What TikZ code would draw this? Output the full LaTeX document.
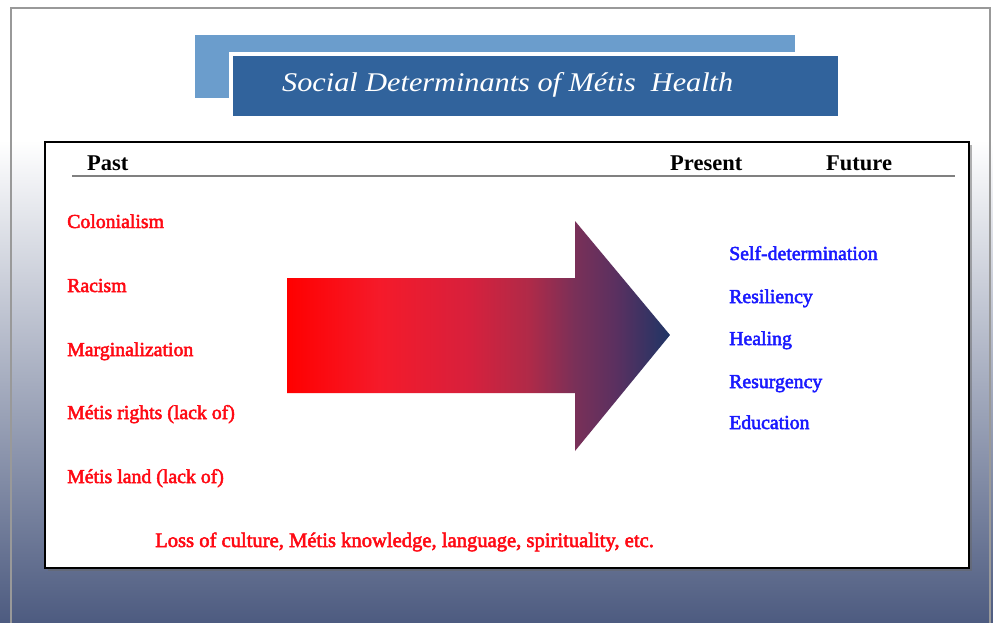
\documentclass[tikz,border=0pt]{standalone}
\usepackage{fontspec}
\setmainfont{Liberation Serif}
\newfontfamily\itemfont[FakeBold=2.5]{Liberation Serif}
\definecolor{bgbottom}{HTML}{4D5B80}
\definecolor{lightblue}{HTML}{6B9DCC}
\definecolor{darkblue}{HTML}{31639C}
\definecolor{redtxt}{HTML}{FF0A14}
\definecolor{bluetxt}{HTML}{1A1AFF}
\definecolor{arA}{HTML}{FF0000}
\definecolor{arB}{HTML}{F51A2A}
\definecolor{arC}{HTML}{D8203C}
\definecolor{arD}{HTML}{B02A48}
\definecolor{arE}{HTML}{7A3058}
\definecolor{arF}{HTML}{5A3060}
\definecolor{arG}{HTML}{1F3565}
\pgfdeclarehorizontalshading{arrowshade}{100bp}{color(0bp)=(arA); color(25bp)=(arA); color(37bp)=(arB); color(48.5bp)=(arC); color(56.5bp)=(arD); color(62.5bp)=(arE); color(68bp)=(arF); color(75bp)=(arG); color(100bp)=(arG)}
\tikzset{
  pastitem/.style={anchor=base west, text=redtxt, font=\itemfont\fontsize{19.8}{22}\selectfont, inner sep=0},
  futitem/.style={anchor=base west, text=bluetxt, font=\itemfont\fontsize{19.8}{22}\selectfont, inner sep=0},
  header/.style={anchor=base west, text=black, font=\bfseries\fontsize{22.5}{25}\selectfont, inner sep=0},
}
\begin{document}
\begin{tikzpicture}[x=1pt,y=-1pt]
\useasboundingbox (0,0) rectangle (993,623);
% background
\shade[top color=white, bottom color=bgbottom] (0,140) rectangle (993,623);
\fill[white] (0,0) rectangle (993,140);
\draw[gray!80, line width=1.2pt] (11,640) -- (11,8) -- (990,8) -- (990,640);
% title bars
\fill[lightblue] (195,35) rectangle (795,98);
\fill[white] (229,52) rectangle (842,120);
\fill[darkblue] (233,56) rectangle (838,116);
\node[text=white, font=\itshape\fontsize{27}{30}\selectfont, inner sep=0, anchor=base west] (title) at (282,91.5) {\scalebox{1.12}[1]{Social Determinants of Métis\ \ Health}};
% main box
\fill[black!60, opacity=0.5] (48,145) rectangle (972,571);
\draw[black, line width=2pt, fill=white] (45,142) rectangle (969,568);
% header
\node[header] (past) at (87,170) {Past};
\node[header] (present) at (670,171) {Present};
\node[header] (future) at (826,170) {Future};
\draw[gray, line width=2.5pt] (72,176) -- (955,176);
% past items
\node[pastitem] (p1) at (67,228) {Colonialism};
\node[pastitem] (p2) at (67,292) {Racism};
\node[pastitem] (p3) at (67,356) {Marginalization};
\node[pastitem] (p4) at (67,419) {Métis rights (lack of)};
\node[pastitem] (p5) at (67,483) {Métis land (lack of)};
\node[pastitem, font=\itemfont\fontsize{20.6}{23}\selectfont] (p6) at (155,547) {Loss of culture, Métis knowledge, language, spirituality, etc.};
% arrow
\shade[shading=arrowshade] (287,278) -- (575,278) -- (575,221) -- (670,335) -- (575,451) -- (575,393) -- (287,393) -- cycle;
% future items
\node[futitem] (f1) at (729,260) {Self-determination};
\node[futitem] (f2) at (729,303) {Resiliency};
\node[futitem] (f3) at (729,345) {Healing};
\node[futitem] (f4) at (729,388) {Resurgency};
\node[futitem] (f5) at (729,429) {Education};
\end{tikzpicture}
\end{document}
